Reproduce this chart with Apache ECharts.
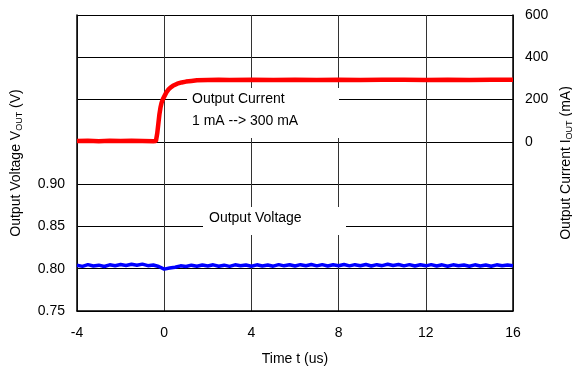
<!DOCTYPE html>
<html>
<head>
<meta charset="utf-8">
<script src="https://cdn.jsdelivr.net/npm/echarts@6/dist/echarts.min.js"></script>
<style>
html,body{margin:0;padding:0;background:#fff;}
#chart{width:572px;height:369px;}
</style>
</head>
<body>
<div id="chart"></div>
<script>
// Time ticks (us)
var xTicks = [-4, 0, 4, 8, 12, 16];
// Left axis ticks (V), right axis ticks (mA)
var vTickLabels = ['0.75', '0.80', '0.85', '0.90'];
var iTickLabels = ['0', '200', '400', '600'];

// Output current (mA) vs time (us)
var tCur = [-4, -3.5, -3, -2.5, -2, -1.5, -1, -0.5, -0.38, -0.32, -0.27, -0.22, -0.17, -0.12, -0.06, 0, 0.1, 0.2, 0.3, 0.4, 0.6, 0.8, 1.0, 1.25, 1.5, 2, 2.5, 3, 4, 5, 6, 7, 8, 9, 10, 11, 12, 13, 14, 15, 16];
var iCur = [4, 5, 3, 5, 4, 5, 4, 3, 4, 40, 85, 130, 162, 185, 202, 214, 234, 248, 258, 265, 275, 281, 285, 288, 291, 293, 294, 293, 294, 293, 294, 293, 294, 293, 294, 294, 293, 294, 293, 294, 294];

// Output voltage (V) vs time (us)
var tVolt = [-4, -3.75, -3.5, -3.25, -3, -2.75, -2.5, -2.25, -2, -1.75, -1.5, -1.25, -1, -0.75, -0.5, -0.25, 0, 0.25, 0.5, 0.75, 1, 1.25, 1.5, 1.75, 2, 2.25, 2.5, 2.75, 3, 3.25, 3.5, 3.75, 4, 4.25, 4.5, 4.75, 5, 5.25, 5.5, 5.75, 6, 6.25, 6.5, 6.75, 7, 7.25, 7.5, 7.75, 8, 8.25, 8.5, 8.75, 9, 9.25, 9.5, 9.75, 10, 10.25, 10.5, 10.75, 11, 11.25, 11.5, 11.75, 12, 12.25, 12.5, 12.75, 13, 13.25, 13.5, 13.75, 14, 14.25, 14.5, 14.75, 15, 15.25, 15.5, 15.75, 16];
var vOut = [0.8040, 0.8028, 0.8048, 0.8032, 0.8042, 0.8026, 0.8046, 0.8036, 0.8050, 0.8038, 0.8052, 0.8040, 0.8054, 0.8036, 0.8044, 0.8026, 0.7995, 0.8008, 0.8018, 0.8034, 0.8026, 0.8042, 0.8030, 0.8044, 0.8032, 0.8046, 0.8030, 0.8042, 0.8028, 0.8046, 0.8034, 0.8044, 0.8030, 0.8046, 0.8032, 0.8044, 0.8030, 0.8048, 0.8034, 0.8046, 0.8032, 0.8048, 0.8036, 0.8050, 0.8034, 0.8048, 0.8032, 0.8046, 0.8036, 0.8050, 0.8034, 0.8048, 0.8036, 0.8050, 0.8032, 0.8048, 0.8036, 0.8052, 0.8038, 0.8050, 0.8034, 0.8048, 0.8032, 0.8046, 0.8034, 0.8048, 0.8032, 0.8046, 0.8030, 0.8046, 0.8034, 0.8044, 0.8030, 0.8046, 0.8032, 0.8044, 0.8030, 0.8046, 0.8034, 0.8044, 0.8036];

function zip(a, b) { return a.map(function (v, i) { return [v, b[i]]; }); }

var FONT = 'Liberation Sans, Arial, sans-serif';
var chart = echarts.init(document.getElementById('chart'), null, {renderer: 'canvas'});
chart.setOption({
  animation: false,
  backgroundColor: '#fff',
  grid: {left: 77, right: 59, top: 15, bottom: 58, containLabel: false, outerBoundsMode: 'none'},
  xAxis: {
    type: 'value', min: -4, max: 16, interval: 4,
    axisLine: {show: true, onZero: false, lineStyle: {color: '#000', width: 1.5}},
    axisTick: {show: false},
    axisLabel: {color: '#000', fontSize: 14, fontFamily: FONT, margin: 15,
      formatter: function (v) { return xTicks.indexOf(v) >= 0 ? String(v) : ''; }},
    splitLine: {show: true, lineStyle: {color: '#333', width: 1}},
    name: 'Time t (us)', nameLocation: 'middle', nameGap: 41,
    nameTextStyle: {color: '#000', fontSize: 14, fontFamily: FONT}
  },
  yAxis: [{
    type: 'value', min: 0.75, max: 1.10, interval: 0.05, position: 'left',
    axisLine: {show: true, onZero: false, lineStyle: {color: '#000', width: 1.5}},
    axisTick: {show: false},
    axisLabel: {color: '#000', fontSize: 14, fontFamily: FONT, margin: 12,
      formatter: function (v) { var s = v.toFixed(2); return vTickLabels.indexOf(s) >= 0 ? s : ''; }},
    splitLine: {show: true, lineStyle: {color: '#000', width: 1}},
    name: '{a|Output Voltage V}{s|OUT}{a| (V)}', nameLocation: 'middle', nameRotate: 90, nameGap: 53,
    nameTextStyle: {color: '#000', fontSize: 14, fontFamily: FONT,
      rich: {a: {fontSize: 14, fontFamily: FONT, color: '#000'}, s: {fontSize: 9, fontFamily: FONT, color: '#000', padding: [6, 0, 0, 0]}}}
  }, {
    type: 'value', min: -800, max: 600, interval: 200, position: 'right',
    axisLine: {show: true, onZero: false, lineStyle: {color: '#000', width: 1.5}},
    axisTick: {show: false},
    axisLabel: {color: '#000', fontSize: 14, fontFamily: FONT, margin: 12,
      formatter: function (v) { var s = String(v); return iTickLabels.indexOf(s) >= 0 ? s : ''; }},
    splitLine: {show: false},
    name: '{a|Output Current I}{s|OUT}{a| (mA)}', nameLocation: 'middle', nameRotate: 90, nameGap: 45,
    nameTextStyle: {color: '#000', fontSize: 14, fontFamily: FONT,
      rich: {a: {fontSize: 14, fontFamily: FONT, color: '#000'}, s: {fontSize: 9, fontFamily: FONT, color: '#000', padding: [6, 0, 0, 0]}}}
  }],
  graphic: [
    {type: 'rect', z: 1, shape: {x: 187, y: 88, width: 152, height: 50}, style: {fill: '#fff'}},
    {type: 'text', z: 2, left: 192, top: 92, style: {text: 'Output Current', font: '14px ' + FONT, fill: '#000'}},
    {type: 'text', z: 2, left: 192, top: 114, style: {text: '1 mA --> 300 mA', font: '14px ' + FONT, fill: '#000'}},
    {type: 'rect', z: 1, shape: {x: 203, y: 207, width: 143, height: 28}, style: {fill: '#fff'}},
    {type: 'text', z: 2, left: 209, top: 211, style: {text: 'Output Voltage', font: '14px ' + FONT, fill: '#000'}}
  ],
  series: [{
    type: 'line', yAxisIndex: 1, data: zip(tCur, iCur), showSymbol: false, z: 5,
    lineStyle: {color: '#ff0000', width: 4.5}
  }, {
    type: 'line', yAxisIndex: 0, data: zip(tVolt, vOut), showSymbol: false, z: 5,
    lineStyle: {color: '#0000ff', width: 3.5}
  }]
});
</script>
</body>
</html>
